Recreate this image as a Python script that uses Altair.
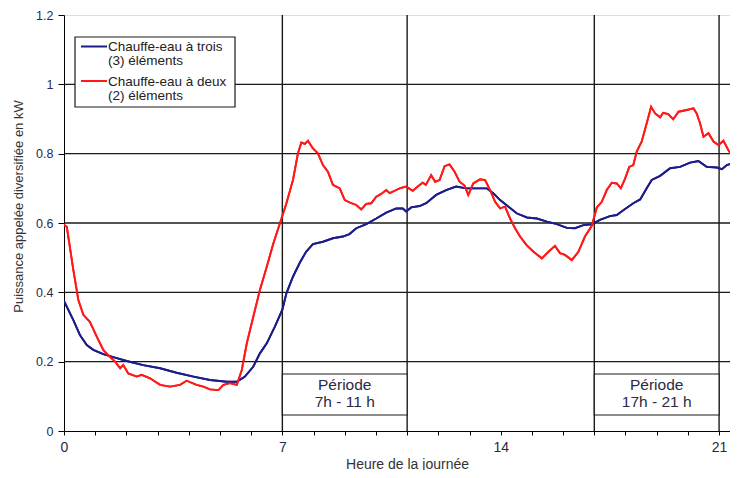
import altair as alt
import pandas as pd

# --- data ---
hours_3 = [0.0, 0.3, 0.51, 0.73, 0.94, 1.26, 1.58, 2.01, 2.54, 3.08, 3.61, 4.15, 4.68, 5.22, 5.54,
           5.8, 6.07, 6.28, 6.5, 6.76, 7.0, 7.13, 7.34, 7.55, 7.76, 7.98, 8.3, 8.62, 8.94, 9.15,
           9.37, 9.69, 10.01, 10.33, 10.65, 10.86, 10.97, 11.13, 11.4, 11.61, 11.93, 12.25, 12.57,
           12.9, 13.22, 13.55, 13.76, 13.98, 14.25, 14.51, 14.84, 15.16, 15.48, 15.8, 16.12, 16.38,
           16.65, 16.92, 17.18, 17.5, 17.72, 17.93, 18.25, 18.47, 18.68, 18.84, 19.11, 19.43, 19.75,
           20.07, 20.34, 20.6, 20.93, 21.09, 21.25, 21.46, 21.6]
kw_3 = [0.375, 0.32, 0.277, 0.248, 0.234, 0.222, 0.213, 0.202, 0.19, 0.181, 0.168, 0.157, 0.147, 0.142, 0.142,
        0.157, 0.186, 0.224, 0.253, 0.301, 0.35, 0.397, 0.445, 0.484, 0.517, 0.539, 0.546, 0.556, 0.561, 0.568,
        0.585, 0.597, 0.613, 0.63, 0.642, 0.642, 0.633, 0.645, 0.649, 0.657, 0.681, 0.695, 0.705,
        0.70, 0.70, 0.70, 0.686, 0.666, 0.647, 0.628, 0.616, 0.613, 0.604, 0.597, 0.586, 0.585,
        0.594, 0.596, 0.609, 0.62, 0.623, 0.637, 0.657, 0.668, 0.70, 0.724, 0.736, 0.758, 0.762,
        0.774, 0.779, 0.762, 0.76, 0.755, 0.767, 0.774, 0.762]

hours_2 = [0.0, 0.09, 0.3, 0.46, 0.62, 0.83, 1.05, 1.26, 1.47, 1.64, 1.8, 1.9, 2.06, 2.33, 2.49, 2.76,
           3.08, 3.4, 3.72, 3.93, 4.25, 4.47, 4.68, 4.95, 5.11, 5.32, 5.54, 5.7, 5.86, 6.07, 6.28,
           6.5, 6.71, 6.98, 7.13, 7.34, 7.5, 7.61, 7.72, 7.82, 7.98, 8.14, 8.3, 8.46, 8.62, 8.84,
           9.0, 9.21, 9.37, 9.53, 9.69, 9.85, 10.01, 10.17, 10.33, 10.44, 10.6, 10.76, 10.97, 11.18,
           11.34, 11.5, 11.6, 11.77, 11.9, 12.04, 12.2, 12.36, 12.52, 12.68, 12.84, 12.96, 13.12,
           13.34, 13.5, 13.66, 13.82, 13.98, 14.14, 14.3, 14.46, 14.62, 14.83, 15.05, 15.32, 15.53,
           15.74, 15.9, 16.06, 16.28, 16.49, 16.7, 16.92, 17.08, 17.24, 17.4, 17.56, 17.72, 17.85,
           17.99, 18.12, 18.25, 18.36, 18.52, 18.68, 18.82, 18.95, 19.11, 19.21, 19.37, 19.53, 19.7,
           19.96, 20.18, 20.28, 20.39, 20.5, 20.66, 20.82, 20.98, 21.14, 21.3, 21.51, 21.6]
kw_2 = [0.595, 0.589, 0.464, 0.378, 0.335, 0.315, 0.272, 0.234, 0.214, 0.2, 0.181, 0.19, 0.166, 0.157, 0.162, 0.152,
        0.133, 0.128, 0.133, 0.145, 0.133, 0.128, 0.12, 0.118, 0.133, 0.138, 0.133, 0.176, 0.253, 0.33, 0.407,
        0.474, 0.541, 0.615, 0.657, 0.724, 0.801, 0.832, 0.828, 0.837, 0.815, 0.801, 0.767, 0.748, 0.71, 0.70,
        0.666, 0.657, 0.652, 0.639, 0.655, 0.657, 0.676, 0.684, 0.695, 0.686, 0.693, 0.70, 0.705, 0.693,
        0.705, 0.716, 0.71, 0.738, 0.719, 0.724, 0.764, 0.769, 0.748, 0.719, 0.708, 0.681, 0.714,
        0.726, 0.724, 0.695, 0.661, 0.642, 0.647, 0.613, 0.585, 0.561, 0.536, 0.517, 0.498, 0.517,
        0.534, 0.513, 0.508, 0.493, 0.517, 0.561, 0.592, 0.645, 0.661, 0.695, 0.716, 0.714, 0.70,
        0.729, 0.762, 0.767, 0.806, 0.835, 0.888, 0.935, 0.916, 0.905, 0.918, 0.914, 0.899, 0.921,
        0.926, 0.931, 0.916, 0.888, 0.849, 0.859, 0.835, 0.825, 0.837, 0.81, 0.782, 0.772]

series_names = ["Chauffe-eau à trois (3) éléments", "Chauffe-eau à deux (2) éléments"]
legend_lines = [["Chauffe-eau à trois", "(3) éléments"], ["Chauffe-eau à deux", "(2) éléments"]]
series_colors = ["#1c1c8a", "#ff1a1a"]

hgrid = [0.2, 0.4, 0.6, 0.8, 1.0]
vgrid = [7, 11, 17, 21]
period_start = [7, 17]
period_end = [11, 21]
period_line1 = ["Période", "Période"]
period_line2 = ["7h - 11 h", "17h - 21 h"]
x_ticks = list(range(0, 22))
y_ticks = [0, 0.2, 0.4, 0.6, 0.8, 1.0, 1.2]

FONT = "Liberation Sans"
TXT = "#333333"
LBL = "#2a2a44"

df = pd.concat([
    pd.DataFrame({"h": hours_3, "kw": kw_3, "s": series_names[0]}),
    pd.DataFrame({"h": hours_2, "kw": kw_2, "s": series_names[1]}),
])

xscale = alt.Scale(domain=[0, 21.35], nice=False, zero=False)
yscale = alt.Scale(domain=[0, 1.2], nice=False)
XTITLE = "Heure de la journée"
YTITLE = "Puissance appelée diversifiée en kW"

xaxis = alt.Axis(values=x_ticks, labelExpr="datum.value % 7 === 0 ? datum.label : ''",
                 grid=False, domainColor="black", tickColor="black", tickSize=4,
                 labelPadding=5, labelFont=FONT, labelFontSize=14, labelColor=LBL,
                 labelFlush=False, labelOverlap=False, labelBound=False,
                 titleFont=FONT, titleFontSize=14, titleColor=TXT, titleFontWeight="normal",
                 titleX=343, titleY=33, titleAnchor="start", titleAlign="center",
                 titleBaseline="middle")
yaxis = alt.Axis(values=y_ticks, format="~g", grid=False, domainColor="black",
                 tickColor="black", tickSize=6, labelPadding=5, labelFont=FONT,
                 labelFontSize=12.5, labelColor=LBL, labelOverlap=False,
                 labelFlush=False, titleFont=FONT, titleFontSize=13, titleColor=TXT,
                 titleFontWeight="normal", titleX=-46, titleY=191, titleAngle=270,
                 titleAlign="center", titleBaseline="middle", titleAnchor="start")


def xenc(field):
    return alt.X(field, scale=xscale, axis=xaxis, title=XTITLE)


def yenc(field):
    return alt.Y(field, scale=yscale, axis=yaxis, title=YTITLE)


gridc = "#1a1a1a"
hg = alt.Chart(pd.DataFrame({"v": hgrid})).mark_rule(color=gridc, strokeWidth=1.4).encode(
    y=yenc("v:Q"))
vg = alt.Chart(pd.DataFrame({"v": vgrid})).mark_rule(color=gridc, strokeWidth=1.4).encode(
    x=xenc("v:Q"))

pdf = pd.DataFrame({"a": period_start, "b": period_end, "l1": period_line1, "l2": period_line2})
pbox = alt.Chart(pdf).mark_rect(fill="white", stroke=gridc, strokeWidth=1.2).encode(
    x=xenc("a:Q"), x2="b:Q", y=alt.value(359), y2=alt.value(400))
pt1 = alt.Chart(pdf).transform_calculate(m="(datum.a + datum.b) / 2").mark_text(
    font=FONT, fontSize=15.5, color=LBL, baseline="middle", align="center").encode(
    x=xenc("m:Q"), y=alt.value(369.5), text="l1:N")
pt2 = alt.Chart(pdf).transform_calculate(m="(datum.a + datum.b) / 2").mark_text(
    font=FONT, fontSize=15.5, color=LBL, baseline="middle", align="center").encode(
    x=xenc("m:Q"), y=alt.value(387), text="l2:N")

lines = alt.Chart(df).mark_line(strokeWidth=1.9, clip=True).encode(
    x=xenc("h:Q"), y=yenc("kw:Q"),
    color=alt.Color("s:N", scale=alt.Scale(domain=series_names, range=series_colors), legend=None),
    detail="s:N")

one = pd.DataFrame({"k": [0]})
lg_box = alt.Chart(one).mark_rect(fill="white", stroke=gridc, strokeWidth=1.2).encode(
    x=alt.value(11), x2=alt.value(171), y=alt.value(22), y2=alt.value(92))
lg_l1 = alt.Chart(one).mark_rule(color=series_colors[0], strokeWidth=2).encode(
    x=alt.value(17), x2=alt.value(43), y=alt.value(31.5))
lg_l2 = alt.Chart(one).mark_rule(color=series_colors[1], strokeWidth=2).encode(
    x=alt.value(17), x2=alt.value(43), y=alt.value(66))
lg_t1 = alt.Chart(one).mark_text(text=legend_lines[0], font=FONT, fontSize=13.5, color="#222",
                                  align="left", baseline="middle", lineHeight=14).encode(
    x=alt.value(44), y=alt.value(32))
lg_t2 = alt.Chart(one).mark_text(text=legend_lines[1], font=FONT, fontSize=13.5, color="#222",
                                  align="left", baseline="middle", lineHeight=14).encode(
    x=alt.value(44), y=alt.value(67))

chart = alt.layer(lines, hg, vg, pbox, pt1, pt2, lines, lg_box, lg_l1, lg_l2, lg_t1, lg_t2).properties(
    width=666, height=416,
    autosize=alt.AutoSizeParams(type="none"),
    padding={"left": 56, "top": 7, "right": 0, "bottom": 39},
).configure_view(stroke="transparent").configure(background="white")

chart.save("out.html", embed_options={"renderer": "svg", "actions": False})
